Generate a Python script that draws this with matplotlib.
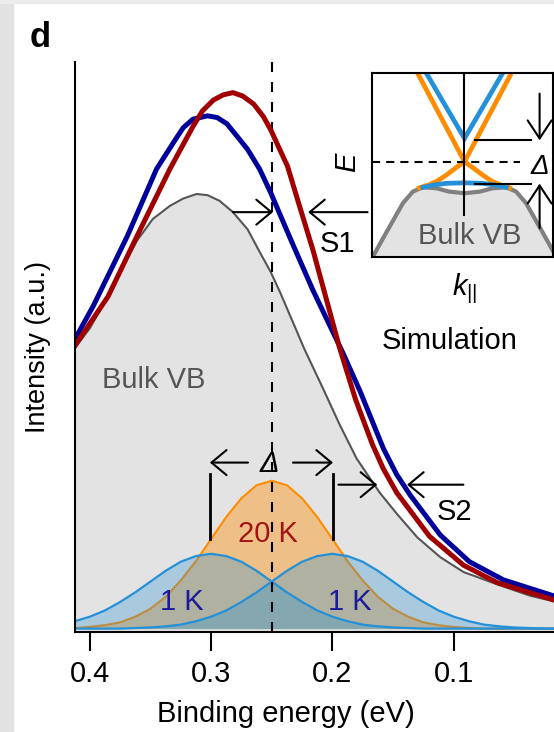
import matplotlib
matplotlib.use('Agg')
import matplotlib.pyplot as plt
from matplotlib.patches import Rectangle

plt.rcParams['font.family'] = ['Liberation Sans', 'DejaVu Sans']
plt.rcParams['mathtext.fontset'] = 'custom'
plt.rcParams['mathtext.it'] = 'Liberation Sans:italic'
plt.rcParams['mathtext.rm'] = 'Liberation Sans'

# main spectra: binding energy (eV) vs intensity (a.u.)
blue_E = [0.413, 0.397, 0.369, 0.345, 0.331, 0.323, 0.315, 0.303, 0.295, 0.287, 0.279,
          0.270, 0.260, 0.251, 0.233, 0.216, 0.191, 0.177, 0.158, 0.147, 0.136, 0.111,
          0.087, 0.059, 0.015]
blue_I = [0.508, 0.570, 0.693, 0.811, 0.858, 0.884, 0.899, 0.905, 0.902, 0.891, 0.870,
          0.846, 0.811, 0.770, 0.680, 0.597, 0.485, 0.418, 0.318, 0.272, 0.236, 0.165,
          0.118, 0.086, 0.056]

red_E = [0.413, 0.385, 0.361, 0.334, 0.315, 0.307, 0.298, 0.290, 0.282, 0.274, 0.265,
         0.257, 0.251, 0.237, 0.227, 0.216, 0.194, 0.181, 0.167, 0.158, 0.147, 0.120,
         0.092, 0.064, 0.015]
red_I = [0.497, 0.586, 0.693, 0.811, 0.886, 0.914, 0.933, 0.942, 0.946, 0.940, 0.926,
         0.904, 0.881, 0.816, 0.745, 0.668, 0.495, 0.405, 0.325, 0.282, 0.240, 0.163,
         0.112, 0.081, 0.049]

gray_E = [0.413, 0.400, 0.389, 0.375, 0.361, 0.348, 0.334, 0.323, 0.312, 0.303, 0.293,
          0.282, 0.270, 0.260, 0.251, 0.243, 0.235, 0.223, 0.208, 0.194, 0.180, 0.161,
          0.147, 0.130, 0.111, 0.092, 0.064, 0.037, 0.015]
gray_I = [0.493, 0.530, 0.572, 0.630, 0.685, 0.723, 0.746, 0.759, 0.767, 0.765, 0.755,
          0.735, 0.705, 0.665, 0.630, 0.593, 0.553, 0.493, 0.425, 0.360, 0.300, 0.240,
          0.203, 0.161, 0.126, 0.100, 0.078, 0.058, 0.047]

# surface-state peaks (1 K split pair and 20 K merged peak)
peak_E = [0.425, 0.4125, 0.4, 0.3875, 0.375, 0.3625, 0.35, 0.3375, 0.325, 0.3125, 0.3,
          0.2875, 0.275, 0.2625, 0.25, 0.2375, 0.225, 0.2125, 0.2, 0.1875, 0.175, 0.1625,
          0.15, 0.1375, 0.125, 0.1125, 0.1, 0.0875, 0.075, 0.0625, 0.05, 0.0375, 0.025,
          0.0125, 0.0]
peak1K_left = [0.007, 0.013, 0.021, 0.032, 0.047, 0.064, 0.083, 0.102, 0.118, 0.128, 0.132,
               0.128, 0.118, 0.102, 0.083, 0.064, 0.047, 0.032, 0.021, 0.013, 0.007, 0.004,
               0.002, 0.001, 0, 0, 0, 0, 0, 0, 0, 0, 0, 0, 0]
peak1K_right = [0, 0, 0, 0, 0, 0.001, 0.002, 0.004, 0.007, 0.013, 0.021, 0.032, 0.047,
                0.064, 0.083, 0.102, 0.118, 0.128, 0.132, 0.128, 0.118, 0.102, 0.083,
                0.064, 0.047, 0.032, 0.021, 0.013, 0.007, 0.004, 0.002, 0.001, 0, 0, 0]
peak20K = [0, 0.001, 0.003, 0.006, 0.011, 0.021, 0.035, 0.056, 0.085, 0.119, 0.158, 0.197,
           0.230, 0.253, 0.261, 0.253, 0.230, 0.197, 0.158, 0.119, 0.085, 0.056, 0.035,
           0.021, 0.011, 0.006, 0.003, 0.001, 0, 0, 0, 0, 0, 0, 0]

# inset band sketch (k, E arbitrary units)
cone20K_k = [-0.56, 0, 0.56]
cone20K_E = [1.04, 0, 1.04]
low20K_k = [-0.5, -0.46, -0.4, -0.3, -0.2, -0.1, 0, 0.1, 0.2, 0.3, 0.4, 0.46, 0.5]
low20K_E = [-0.285, -0.27, -0.255, -0.21, -0.145, -0.07, 0, -0.07, -0.145, -0.21, -0.255, -0.27, -0.285]
cone1K_k = [-0.45, 0, 0.45]
cone1K_E = [1.01, 0.253, 1.01]
low1K_k = [-0.46, -0.35, -0.2, 0, 0.2, 0.35, 0.46]
low1K_E = [-0.28, -0.255, -0.235, -0.23, -0.235, -0.255, -0.28]
vb_k = [-1.0, -0.87, -0.68, -0.57, -0.46, -0.31, -0.17, 0, 0.17, 0.31, 0.46, 0.57, 0.68, 0.87, 1.0]
vb_E = [-1.01, -0.78, -0.45, -0.325, -0.278, -0.289, -0.325, -0.343, -0.325, -0.289, -0.278,
        -0.325, -0.45, -0.78, -1.01]

navy = '#00009a'
darkred = '#a00000'
sky = '#2390d8'
orange = '#ff8c00'

fig = plt.figure(figsize=(5.54, 7.32), dpi=100)
fig.patch.set_facecolor('white')
fig.patches.append(Rectangle((0, 0), 13/554, 1, transform=fig.transFigure, color='#e2e2e2', zorder=-5))
fig.patches.append(Rectangle((0, 1 - 3/732), 1, 3/732, transform=fig.transFigure, color='#ececec', zorder=-5))

fig.text(30/554, 1 - 47/732, 'd', fontsize=25, fontweight='bold', ha='left', va='baseline')

ax = fig.add_axes([75/554, 100/732, 479/554, 570/732])
ax.set_xlim(0.4122, 0.0173)
ax.set_ylim(-0.006, 1)
for s in ['top', 'right']:
    ax.spines[s].set_visible(False)
for s in ['left', 'bottom']:
    ax.spines[s].set_linewidth(1.5)
    ax.spines[s].set_zorder(10)
ax.set_xticks([0.4, 0.3, 0.2, 0.1])
ax.set_xticklabels(['0.4', '0.3', '0.2', '0.1'])
ax.tick_params(axis='x', direction='out', length=14, width=1.5, labelsize=21, pad=6)
ax.set_yticks([])
ax.set_xlabel('Binding energy (eV)', fontsize=21)
ax.xaxis.set_label_coords(0.44, -0.12)
ax.set_ylabel('Intensity (a.u.)', fontsize=19.5)
ax.yaxis.set_label_coords(-0.05, 0.5)

ax.fill_between(gray_E, -0.01, gray_I, color='#e3e3e3', lw=0, zorder=1)
ax.plot(gray_E, gray_I, color='#555555', lw=1.5, zorder=1.5)

ax.fill_between(peak_E, 0, peak20K, color=orange, alpha=0.4, lw=0, zorder=2)
ax.plot(peak_E, peak20K, color=orange, lw=1.5, zorder=2.1)
for pk in [peak1K_left, peak1K_right]:
    ax.fill_between(peak_E, 0, pk, color=sky, alpha=0.3, lw=0, zorder=3)
    ax.plot(peak_E, pk, color=sky, lw=1.6, zorder=3.1)

ax.axvline(0.25, color='k', lw=1.5, ls=(0, (4.8, 4.8)), zorder=5)

ax.plot(blue_E, blue_I, color=navy, lw=3.6, zorder=6, solid_capstyle='butt', solid_joinstyle='round')
ax.plot(red_E, red_I, color=darkred, lw=3.6, zorder=6, solid_capstyle='butt', solid_joinstyle='round')


def arrow(a, x0, y0, x1, y1, hl=1.08, hw=0.9):
    a.annotate('', xy=(x1, y1), xytext=(x0, y0), annotation_clip=False,
               arrowprops=dict(arrowstyle='->,head_length=%g,head_width=%g' % (hl, hw),
                               lw=1.5, color='k', shrinkA=0, shrinkB=0, mutation_scale=10),
               zorder=7)


# S1 / S2 shifts
arrow(ax, 0.282, 0.735, 0.249, 0.735)
arrow(ax, 0.171, 0.735, 0.220, 0.735)
ax.text(0.196, 0.679, 'S1', fontsize=21, ha='center', va='center', zorder=7)
arrow(ax, 0.195, 0.254, 0.163, 0.254)
arrow(ax, 0.092, 0.254, 0.1385, 0.254)
ax.text(0.099, 0.205, 'S2', fontsize=21, ha='center', va='center', zorder=7)

# gap between the 1 K peaks
arrow(ax, 0.2696, 0.293, 0.301, 0.293)
arrow(ax, 0.2325, 0.293, 0.1995, 0.293)
ax.text(0.252, 0.291, 'Δ', fontsize=21, style='italic', ha='center', va='center', zorder=7)
for x in [0.301, 0.1995]:
    ax.plot([x, x], [0.158, 0.272], color='k', lw=2, zorder=7)

ax.text(0.253, 0.167, '20 K', fontsize=21, color='#a01414', ha='center', va='center', zorder=7)
ax.text(0.324, 0.047, '1 K', fontsize=21, color='#1a1a9a', ha='center', va='center', zorder=7)
ax.text(0.1855, 0.047, '1 K', fontsize=21, color='#1a1a9a', ha='center', va='center', zorder=7)
ax.text(0.390, 0.439, 'Bulk VB', fontsize=21, color='#555555', ha='left', va='center', zorder=7)
ax.text(0.103, 0.507, 'Simulation', fontsize=21, ha='center', va='center', zorder=7)

# inset: band schematic
iax = fig.add_axes([372/554, (732 - 257)/732, 181/554, 184/732])
iax.set_xlim(-1.022, 0.978)
iax.set_ylim(-1.036, 0.964)
iax.set_xticks([])
iax.set_yticks([])
for s in iax.spines.values():
    s.set_linewidth(1.5)
    s.set_zorder(10)

iax.fill_between(vb_k, -1.1, vb_E, color='#e3e3e3', lw=0, zorder=1)
iax.plot(vb_k, vb_E, color='#808080', lw=3, zorder=2)
iax.plot(cone20K_k, cone20K_E, color=orange, lw=3.4, zorder=3)
iax.plot(low20K_k, low20K_E, color=orange, lw=3.4, zorder=3)
iax.plot(cone1K_k, cone1K_E, color=sky, lw=3.4, zorder=4, solid_joinstyle='miter')
iax.plot(low1K_k, low1K_E, color=sky, lw=3.4, zorder=4)
iax.plot([0, 0], [0.964, -0.578], color='k', lw=1.5, zorder=5)
iax.plot([-1.022, 0.61], [0, 0], color='k', lw=1.5, ls=(0, (3.9, 2.9)), zorder=5)
iax.plot([0.111, 0.74], [0.235, 0.235], color='k', lw=1.5, zorder=5)
iax.plot([0.111, 0.74], [-0.242, -0.242], color='k', lw=1.5, zorder=5)
arrow(iax, 0.83, 0.74, 0.83, 0.232, hl=1.3, hw=0.86)
arrow(iax, 0.83, -0.722, 0.83, -0.238, hl=1.3, hw=0.86)
iax.text(0.83, -0.054, 'Δ', fontsize=20, style='italic', ha='center', va='center', zorder=6)
iax.text(0.055, -0.812, 'Bulk VB', fontsize=21, color='#555555', ha='center', va='center', zorder=6)
iax.text(-0.138, 0.516, 'E', fontsize=21, style='italic', rotation=90,
         ha='center', va='center', transform=iax.transAxes)
iax.text(0.514, -0.17, r'$k_{||}$', fontsize=21, ha='center', va='center',
         transform=iax.transAxes)

fig.savefig('out.png', dpi=100)
